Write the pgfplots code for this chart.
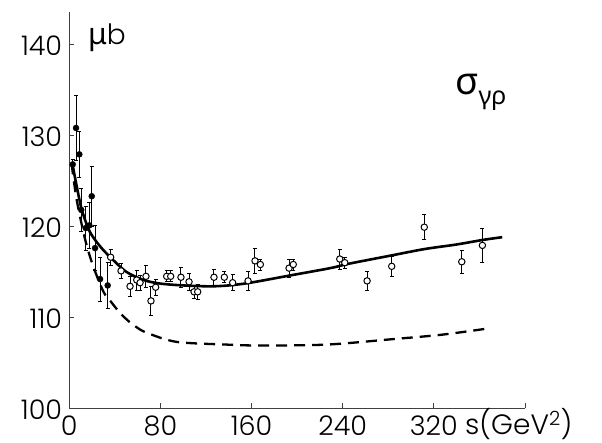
\documentclass[border=0pt]{standalone}
\usepackage{fontspec}
\setmainfont{Poppins}[UprightFont=* Light]
\newfontfamily\greek{Noto Sans}
\usepackage{pgfplots}
\pgfplotsset{compat=1.18}

\begin{document}
\begin{tikzpicture}[x=1pt,y=1pt]
\useasboundingbox (0,0) rectangle (602,443);
\begin{axis}[
    at={(69.3pt,34.7pt)}, anchor=south west,
    scale only axis,
    width=455.7pt, height=395.9pt,
    xmin=0, xmax=400, ymin=100, ymax=143.5,
    axis lines=left,
    axis line style={-, line width=0.8pt, black!75},
    tick align=inside,
    major tick length=5pt,
    tick style={line width=0.8pt, black!75},
    xtick={0,80,...,400},
    xticklabels={0,80,160,240,320,{}},
    ytick={100,110,...,140},
    ticklabel style={font=\fontsize{27}{29}\selectfont, inner sep=0pt},
    xticklabel style={anchor=base, yshift=-27pt},
    yticklabel style={anchor=base east, xshift=-7pt, yshift=-11pt},
    /pgf/number format/assume math mode=true,
    clip=false,
]
% fits
\addplot[black, line width=2.6pt, smooth] coordinates {
  (2.5,127.0) (6.5,124.4) (11,121.8) (18,119.4) (27,117.8) (36,116.6)
  (50,115.0) (65,114.1) (80,113.7) (100,113.5) (123,113.4) (140,113.5)
  (159,113.8) (194,114.6) (229,115.4) (246,115.9) (283,116.8) (312,117.5)
  (340,118.0) (363,118.5) (380,118.8)
};
\addplot[black, line width=2.3pt, dash pattern=on 11pt off 7pt, smooth] coordinates {
  (2,126.9) (6.5,122.9) (14,118.5) (21,115.6) (30,112.8) (36,111.8)
  (43,110.7) (50,109.8) (58,109.0) (68,108.3) (94,107.3) (138,107.0)
  (167,106.9) (226,107.0) (284,107.6) (328,108.1) (369,108.8)
};
% filled points
\addplot[black, only marks, mark=*, mark size=3pt,
  error bars/.cd, y dir=both, y explicit,
  error bar style={line width=1pt},
  error mark options={rotate=90, mark size=2pt, line width=0.8pt}]
  coordinates {
  (3.0,126.8) +- (0,0.6)
  (5.9,130.8) +- (0,3.6)
  (8.8,127.9) +- (0,2.5)
  (10.5,121.8) +- (0,2.4)
  (14.4,119.8) +- (0,2.4)
  (17.6,120.1) +- (0,2.5)
  (19.7,123.3) +- (0,3.3)
  (22.6,117.6) +- (0,2.5)
  (27.0,114.2) +- (0,2.4)
  (33.7,113.5) +- (0,2.5)
};
% open points
\addplot[black, only marks, mark=*, mark size=3.2pt,
  mark options={fill=white, line width=1pt},
  error bars/.cd, y dir=both, y explicit,
  error bar style={line width=1pt},
  error mark options={rotate=90, mark size=2pt, line width=0.8pt}]
  coordinates {
  (36.3,116.6) +- (0,0.9)
  (45.4,115.1) +- (0,0.8)
  (53.3,113.4) +- (0,1.1)
  (59.2,114.1) +- (0,1.1)
  (62.1,113.8) +- (0,0.8)
  (67.3,114.5) +- (0,1.2)
  (71.7,111.8) +- (0,1.6)
  (75.8,113.3) +- (0,0.9)
  (85.5,114.5) +- (0,0.6)
  (89.0,114.5) +- (0,0.6)
  (98.0,114.4) +- (0,1.1)
  (105.1,113.9) +- (0,0.9)
  (109.5,112.8) +- (0,0.7)
  (112.7,112.8) +- (0,0.8)
  (127.0,114.4) +- (0,0.9)
  (136.1,114.4) +- (0,0.6)
  (143.4,113.8) +- (0,0.9)
  (156.9,114.0) +- (0,1.0)
  (163.0,116.2) +- (0,1.4)
  (167.7,115.8) +- (0,0.6)
  (192.9,115.4) +- (0,1.0)
  (196.6,115.8) +- (0,0.6)
  (237.4,116.4) +- (0,1.1)
  (241.8,116.0) +- (0,0.6)
  (261.4,114.0) +- (0,1.0)
  (283.0,115.6) +- (0,1.1)
  (311.6,119.9) +- (0,1.35)
  (344.5,116.1) +- (0,1.25)
  (362.6,117.9) +- (0,1.85)
};
\end{axis}
% labels
\node[anchor=base west, inner sep=0pt, font=\fontsize{28}{30}\selectfont] at (465,8) {s(GeV\textsuperscript{2})};
\node[anchor=base west, inner sep=0pt, font=\fontsize{28}{30}\selectfont] at (88,398) {{\greek\fontsize{30}{32}\selectfont μ}b};
\node[anchor=base west, inner sep=0pt] at (455,348) {\greek\fontsize{38}{40}\selectfont σ\raisebox{-10pt}{\fontsize{25}{26}\selectfont γρ}};
\end{tikzpicture}
\end{document}
